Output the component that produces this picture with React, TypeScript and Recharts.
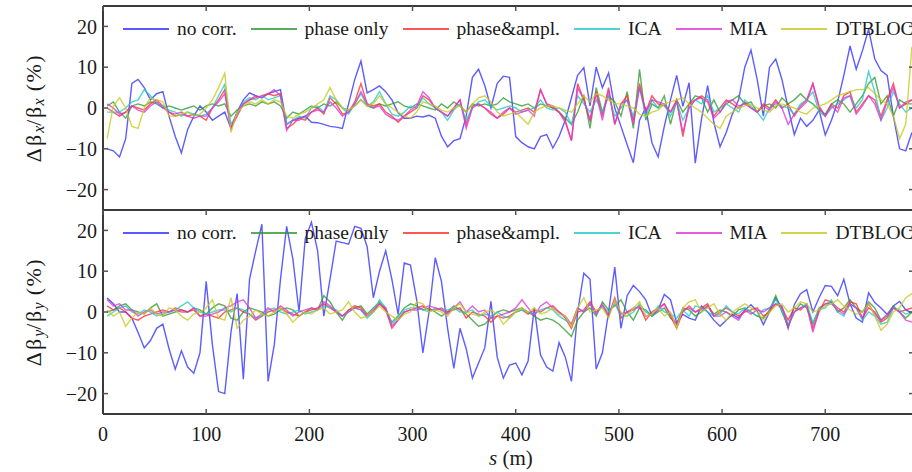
import { LineChart, Line, XAxis, YAxis, Legend } from 'recharts';

// BPM positions along the ring (m)
const sPos = [
  4, 10, 16, 22, 28, 34, 40, 46, 52, 58,
  64, 70, 76, 82, 88, 94, 100, 106, 112, 118,
  124, 130, 136, 142, 148, 154, 160, 166, 172, 178,
  184, 190, 196, 202, 208, 214, 220, 226, 232, 238,
  244, 250, 256, 262, 268, 274, 280, 286, 292, 298,
  304, 310, 316, 322, 328, 334, 340, 346, 352, 358,
  364, 370, 376, 382, 388, 394, 400, 406, 412, 418,
  424, 430, 436, 442, 448, 454, 460, 466, 472, 478,
  484, 490, 496, 502, 508, 514, 520, 526, 532, 538,
  544, 550, 556, 562, 568, 574, 580, 586, 592, 598,
  604, 610, 616, 622, 628, 634, 640, 646, 652, 658,
  664, 670, 676, 682, 688, 694, 700, 706, 712, 718,
  724, 730, 736, 742, 748, 754, 760, 766, 772, 778,
  784,
];

// horizontal beta beating (%)
const noCorrX = [
  -10, -10.5, -12, -7.5, 6, 7, 5, 2, 3.5, 4,
  -2, -7, -11, -5.3, -2, 0.5, -1, -3, -2, -1,
  -5, -1, 2, 3.7, 3, 2.5, 3.5, 4, 4.5, -4,
  -3, -2.5, -2, -3.5, -3.6, -4, -4.5, -4.7, -5, 1,
  7, 11.5, 3.7, 4.5, 5.4, 4, 2, -1.2, -2.5, -2.5,
  -2, -2.2, -1.8, -2.5, -6.9, -9.5, -8, -7.5, -2, 7.5,
  9.5, 5.5, 0, 6, 7.8, 7.5, -7, -8.5, -9.5, -10,
  -7, -6.5, -9.8, -7, -3, 2.5, 8, 9.9, 0.5, 10,
  5, 8.6, 0, -4.5, -9, -13.4, -3, 0, -8.5, -12,
  -4.5, 2, 8, 0.4, 6.2, -13.5, -2.8, 5.5, -3.5, -9.5,
  -6, -1.5, 2, 10, 14.2, 7, -2, 10, 12, 7,
  0, -6.5, -2.5, -4.5, -3, -0.5, -6.6, -3, 1.5, 8,
  15.2, 9.5, 14, 19.3, 12, 9.2, 8, -2, -10, -10.5,
  -6,
];
const phaseOnlyX = [
  0.5, 1.5, -1, -2.5, 0.5, 1, 0.5, 1.5, 1, 0,
  0.5, 0, -0.5, 0, 0.5, -0.5, 0.5, 1, 0.5, 1,
  -2, -0.5, 0.5, 1, 0.5, 1.5, 1, 1.5, 0.5, -2.5,
  -1, -1.5, -0.5, 0.5, 0, 1, 0.5, 1.5, 0, -0.5,
  0.5, 2, 0.5, 0, 1, 0.5, 1, 1.5, 0.5, 0,
  1, 0.5, 0, -0.5, 1, 0, 1.5, 0.5, -1, 1,
  0.5, 1, 0.5, 1, 2.5, 1.5, 1, 0.5, 1, 0,
  1, 0.5, 0, -1, -2.5, -4, -1, 3, -5, 5,
  -1, 3, 1.5, -2, 4, -5, 9.5, -3, 1, 0,
  3, -4, 2, -1, 1, 3, 2.5, -1, 2, -1,
  1, 2, 3, 1, 1.5, -1, 0.5, 1, 0, 2.5,
  1, 2, 3.5, 2, 1, -0.5, -1.5, 1, 2, 1,
  -1, 1, 3, 6, 7.5, 1, 3, -2, 2, 1,
  1,
];
const phaseAmplX = [
  0, -1, -2, -1, 0.5, 0, -0.5, 1, 2, 0.5,
  -1, -2, -1.5, -2, -1.5, -2, -3, 0, 2, 4.5,
  -5, -2, 1, 2, 2.5, 3, 3.5, 3, 3.5, -5,
  -4, -2.5, -3, -1, 0, -1.5, 2.5, 1, -1.5, -1,
  1.5, 6, 1, 0.5, 1, -1, -2, -3.5, -2, -1,
  0, 3, 2, 0, -1, -2, 0, 2, -4, 0.5,
  1, 0, -1.5, -2.5, -1.5, 0, -1, -0.5, 0, -1,
  4.5, 1, 0, -1, -3, -8, 6, 2, -3, 4,
  -2, 5, -4, 1, 3, -3, 6, -1, 3, 1,
  0.5, -1, 2, -7, 1, 2, 3, 2, -2, 0,
  2, 1, 0, 1.5, 0, -1, 1, 0, 2, 0,
  1, -2, 0.5, 2, 6, 0, -2, 1, 0, 3,
  4, -1, 1, 3, 2, -2, 2, 6, 0, 1,
  2,
];
const icaX = [
  -1, -1, -1, 0, 1.5, 2, 4.5, 3, 1, 0.5,
  -0.5, -1, -2, -1, -1.5, -2, -1.5, 0, 3, 5.8,
  -4, -1.5, 1.5, 2.5, 2, 3, 2, 2.5, 3, -4,
  -3, -2, -2.5, 0, 0.5, -1, 3, 2, 0, -1.5,
  1, 3.5, 0.5, 1.5, 4, 1, -1.5, -2, -1, 0.5,
  0, 2.5, 1, 0, -1, -3, -0.5, 1, -3, 0,
  1.5, 2, 0.5, -0.5, 0, 0.5, 0, -1, -0.5, 0,
  2, 0, -0.5, 0, -1, -4, 3, 1, -1, 2,
  -1, 3, -2, 0, 2, -2, 5, -2, 2, 0,
  1, -2, 1.5, -3, 0, 2, 1, 3, -1, 0,
  1, 0, -1, 2, 0.5, -1, -3, 0, 1, 0.5,
  0, -1.5, 1, 2, 4, -1, -2, 0, 1, 2,
  3, 0, 2, 9, 4, -3, 0, 4, 1, -1,
  0,
];
const miaX = [
  1, 0, -1.5, -1, 0.5, -0.5, -1, 0.5, 1.5, 0,
  -1, -1.5, -1, -2, -2.5, -2, -2, 0, 1.5, 3.5,
  -5, -1, 1, 2, 3, 2.5, 3.5, 4.5, 3, -5.5,
  -3, -3, -2, -1, -0.5, -1, 1.5, 0, -2, -1,
  1, 4, 1, 0, 0.5, -1.5, -2.5, -3, -2, -0.5,
  0.5, 4, 2.5, 0, -1, -2, 0, 2, -5, 0,
  1, 0, -1, -2.5, -1, 0, -1.5, -1, -0.5, -2,
  4.5, 1, 0.5, -1, -3.5, -8, 5, 2, -3, 3.5,
  -3, 4.5, -4, 1, 2, -4, 5, -1, 2, 1.5,
  1, -1, 1.5, -6, 0, 2, 2.5, 1.5, -2.5, -1,
  1.5, 2, 0.5, 1, 0, -1, 0.5, -0.5, 1.5, 0,
  -4, -1.5, 0, 1.5, 6, 0.5, -2, 0.5, -1, 2.5,
  3, -1.5, 0.5, 3, 1, -3, 1.5, 5, 0, 1.5,
  2,
];
const dtblocoX = [
  -7.5, 0.5, 2.5, 0, -4.5, -5, 0, 2.5, 2, 1.5,
  -2, -2, -1.5, -1, -2, -1.5, 0, 2, 5, 8.5,
  -6, -1, 0.5, 1.5, 1, 2, 1, 2, 1.5, -2,
  -2.5, -1.5, -1, 0, 1, 2, 5, 2, 0, -0.5,
  0.5, 2, 0.5, 1, 3, 1, 0, -1, -2, -2.5,
  -1, 1.5, 1, 0.5, -0.5, -1, 0, 0.5, -1, 1,
  2.5, 3, 1.5, -1, -2, -1.5, -1, -2.5, -4, -1,
  0, 0.5, 0.5, 0, -0.5, -1, 1, 3, 1.5, 3.5,
  3, 2, 1, 1, 0.5, 0, -1.5, -2, -1, -0.5,
  1, 1.5, 2, 2.5, 1, 0, -1, -2.5, -4, -5,
  -2, -1, 0, 0.5, 1, 0, -0.5, -1, 0.5, 1,
  0.5, 0, -1, -1.5, 0, 0.5, 1, 2, 3, 3.5,
  4, 4.5, 4.5, 5, 3.5, 2, 1, -2, -7.5, -4,
  15,
];

// vertical beta beating (%)
const noCorrY = [
  3.4, 2, 0, 0, -1.5, -5, -8.8, -7, -4, -3,
  -9, -14, -9.5, -13.5, -15, -10, 7.5, -8, -19.5, -20,
  -5, 4.5, -16.5, 8, 15, 21.5, -17, -8, 8, 21,
  13, 0, 18, 22, 15, -1, 8, 17.4, 17, 16.6,
  21, 20.5, 16, 3.5, 10, 15, 8, -0.6, 12, 11.5,
  3, -10, 0, 13.3, 7.5, -4, -13.8, -4, -9, -16.2,
  -12.5, -8.8, 2.6, -11, -16.2, -13, -12.5, -15.4, -12, 1,
  -10.5, -13.5, -14.5, -7.5, -11, -17, 0, 9.5, 8, -14,
  -10, 0, 11, -4, 4, 6.5, 5, 3, -1, 0.5,
  4.3, 3, -2.7, -0.6, -1.5, -2, 1.5, 0, -2, -3.5,
  -2, -0.6, -1.5, 0.5, 1.8, 0.2, -3.1, 0, 3.5, 1,
  -4, 1.8, 4.5, 5.5, 0, 3.5, 6.5, 6.3, 4, 8,
  2, -1.5, -2.5, 4.7, 2.3, 1, -0.6, 1.5, 2.6, 0.5,
  -0.2,
];
const phaseOnlyY = [
  0, 0.5, 1.5, 2, 0.5, 0, -0.5, 1, 2, -1,
  -0.5, 0, 0.5, 0, 1, 0.5, -0.5, 1, 2, 1.5,
  -1.5, -2, 0, 1, 0.5, 0, -1, -0.5, 0.5, 1,
  0.5, -1, 0, 1, 0.5, 4, 2.5, 0, -2, 0.5,
  1, 1.5, -0.5, 1, 2.5, 0.5, -2.5, -1, 1, 2,
  1.5, 0.5, 1, 0, -1, 0, 1.5, 0.5, -0.5, -2,
  -3.5, -3, -1.5, 0, 0.5, 0, 0.5, 1, 0, -1,
  -2, -1.5, -2, -3, -4.5, -6, -2, 0, 1, -1,
  2.5, 0.5, 1.5, 3, 0, -2, 1, 0.5, -1, 0,
  1, -1.5, -3, 1, 0.5, -1, 0, 1.5, -0.5, 0.5,
  0, -1, 0.5, 1, 0, -1, -1.5, 0.5, 4, 0,
  -3.5, 0, 2, 1, -3, 1, 2, 2.5, 0, 1,
  3, 1, 0, 2.5, 1, -2, -1, 1.5, 0, -1.5,
  0,
];
const phaseAmplY = [
  1.5, 0.5, 1, 0, -1.5, -2, -1, -0.5, 0, 0.5,
  0, 1, 0.5, 0, 0.5, -1, -0.5, -1, -1.5, 0,
  0.5, 1, 0, -0.5, -2, -1, 0, 0.5, 1, 0,
  -0.5, -1, 0, 0.5, 1, 2, 1, 0, -1, 0.5,
  1.5, 1, -1, 0, 2, 0.5, -4, -2, 0, 0.5,
  1, 1.5, 0.5, 0.5, 1, 0, 0.5, 1, -1.5, 0,
  -0.5, -1, -2.5, -1, -1.5, -1, 0, 0.5, -0.5, 0.5,
  0, 1, 1.5, 0, -1.5, -4, 0, 0.5, 2.5, 0,
  1.5, -1, 3.5, -1.5, 0, 0.5, 1.5, -2, 0, 1,
  2, -1, -4, 0, 1.5, 0, 1, 2, -1, 0,
  1, 0, -1, 0, 0.5, 1, -1, 0, 2, 1,
  -2, 1, 0.5, 2, -4, 0, 3, 2.5, 1, 0,
  2.5, 2, -1.5, 1, 0, -2.5, -1.5, 1, 0, 0.5,
  1,
];
const icaY = [
  -1, 0, 1, 1.5, 0, -0.5, 0.5, 0, -1, -0.5,
  0, 0.5, 1.5, 2.5, 1, 0, -0.5, 0, 0.5, 0.5,
  0, 1, 0.5, -0.5, -1.5, -1, 0.5, 1, 0, -0.5,
  0, 0.5, -0.5, 0, 0.5, 1.5, 1, 0.5, -1, 0,
  1, 0.5, -1.5, 0, 3, 1, -3, -1.5, 0.5, 1,
  1, 0.5, 0, 1, 0.5, 0.5, 1, 0, 0, 0.5,
  -1, -0.5, -1, 0, -1, -1.5, 0, 0.5, 0, -0.5,
  0.5, 1, 0.5, -1, -2, -3, 1, 0, 2, -0.5,
  1.5, 0, 2, -1, -1, 0, 2, 0, -1, 1.5,
  0, -0.5, -1.5, 0.5, -1, 1.5, 1, 0, -1, -0.5,
  1.5, 0, -0.5, 1, 0, -1, 0.5, 1, 3, 0.5,
  -3, 0, 1, 2, -2.5, 0.5, 1, 3, 0, -1,
  2, 1, -2, 0, -1, -3, -2.5, 1, 0.5, -0.5,
  0,
];
const miaY = [
  3, 1.5, 2, 0.5, 0.5, -1, 0, 0.5, -0.5, 0,
  0, 0.5, 0, 0, 1, -1, -1, -0.5, 0, 1,
  1.5, 2.5, 3, 1, -1.5, -0.5, 1, 0, 1.5, 0.5,
  -1, 0, 0.5, 1, 0.5, 2.5, 1.5, 0, -1, 0,
  1, 0.5, -1, 0.5, 2, 1, -3.5, -2, 0, 0.5,
  0.5, 1, 1.5, 1, 0.5, -0.5, 1, 2.5, 0, 1.5,
  0, 0.5, -1.5, -1, -0.5, 0, 1, 3, 1, -1,
  1.5, 2.5, 1, 0, -1, -3, 1, 0, 2, -0.5,
  2, -1, 3, -0.5, 0, 1, 1, -1, -0.5, 0.5,
  2, -0.5, -3, 0.5, 1, 0, 0.5, 1.5, -1, -1,
  0, -1, -2, 0.5, -0.5, 0.5, 0, 1, 2, 1.5,
  -3.5, 0, 1, 1.5, -5, 0.5, 2, 2, 0.5, -0.5,
  2, 1, -1.5, 2, -0.5, -2, -0.5, 1, 0, -2,
  -2.5,
];
const dtblocoY = [
  0.5, -1, 0, -3.5, -1.5, 0, -0.5, 1, -0.5, -1,
  1, 0.5, -1, -2, -0.5, 0, 1, 3, -1.5, -2,
  3.5, -4, -2, -1, 0.5, -0.5, -1, 0, 1, -0.5,
  -2.5, -1, 0, -0.5, 0.5, 1, -0.5, 0, 0.5, 2.5,
  0, -1.5, -1, 0, 1.5, 0, -1, -2, -0.5, 0,
  2.5, 2, 0, 0.5, 0, -1, 1, 2, 0, -0.5,
  -1, 0, 0.5, -0.5, -3, -1.5, 0, 1, 0, 1,
  -0.5, 0, 1, -0.5, -1, -3.5, 1, 3.5, 0, 0.5,
  1, -1.5, 3, 0, -1, 1, 2.5, -1, -0.5, 1,
  -1, 0, -4, 1, 2.5, 3, 0, 1, 2, -0.5,
  -2, 0, 1, 2, 1, 0, -2, 0, 1.5, 2,
  0, 1, 2.5, 2, 0, 0.5, 1.5, 2, 3, 1.5,
  0.5, -0.5, 0, 2, -1, -4.5, -3, 0, 1, 3.5,
  4.5,
];

const seriesNames = ['no corr.', 'phase only', 'phase&ampl.', 'ICA', 'MIA', 'DTBLOCO'];
const seriesKeys = ['nc', 'po', 'pa', 'ica', 'mia', 'dtb'];
const seriesColors = ['#2f2fff', '#2e9a2e', '#ff2a2a', '#22c8c8', '#dd33dd', '#c8c81e'];
const xTicks = [0, 100, 200, 300, 400, 500, 600, 700];
const yTicks = [-20, -10, 0, 10, 20];

const X_MAX = 786;
const Y_MAX = 25;

const buildRows = (cols: number[][]) =>
  sPos.map((s, i) => {
    const row: Record<string, number> = { s };
    seriesKeys.forEach((k, j) => (row[k] = cols[j][i]));
    return row;
  });

const rowsX = buildRows([noCorrX, phaseOnlyX, phaseAmplX, icaX, miaX, dtblocoX]);
const rowsY = buildRows([noCorrY, phaseOnlyY, phaseAmplY, icaY, miaY, dtblocoY]);

const FONT = '"Liberation Serif", "Times New Roman", serif';
const FRAME = '#3a3a3a';
const frame = { stroke: FRAME, strokeWidth: 2 };
const tickMark = { stroke: '#555', strokeWidth: 1.5 };
const tickText = { fontSize: 20, fill: '#1a1a1a', fontFamily: FONT };
const fmtY = (v: number) => (v < 0 ? `\u2212${-v}` : `${v}`);

// legend drawn in series order, straight from the series lists
const LegendRow = () => (
  <div style={{ display: 'flex', alignItems: 'center', fontFamily: FONT, fontSize: 19.5, color: '#1a1a1a', whiteSpace: 'nowrap' }}>
    {seriesNames.map((name, j) => (
      <div key={name} style={{ display: 'flex', alignItems: 'center', marginRight: 14 }}>
        <div style={{ width: 46, height: 0, borderTop: `2px solid ${seriesColors[j]}`, opacity: 0.8 }} />
        <span style={{ marginLeft: 8 }}>{name}</span>
      </div>
    ))}
  </div>
);

// y title plus the top / right sides of the box (the axes only draw left and bottom)
const PanelDecor = ({ viewBox, sub }: any) => {
  const left = viewBox?.x + viewBox?.width || 103;
  const top = viewBox?.y ?? 6;
  const h = viewBox?.height ?? 204;
  const right = 914;
  const w = right - left;
  const cy = top + h / 2;
  return (
    <g>
      <line x1={left} y1={top} x2={right} y2={top} stroke={FRAME} strokeWidth={2} />
      <line x1={right} y1={top} x2={right} y2={top + h} stroke={FRAME} strokeWidth={2} />
      {xTicks.map((t) => {
        const x = left + (t / X_MAX) * w;
        return <line key={`t${t}`} x1={x} y1={top} x2={x} y2={top + 5} stroke="#555" strokeWidth={1.5} />;
      })}
      {yTicks.map((t) => {
        const y = top + ((Y_MAX - t) / (2 * Y_MAX)) * h;
        return <line key={`r${t}`} x1={right} y1={y} x2={right - 5} y2={y} stroke="#555" strokeWidth={1.5} />;
      })}
      <text
        x={33}
        y={cy}
        transform={`rotate(-90, 33, ${cy})`}
        textAnchor="middle"
        dominantBaseline="central"
        fontSize={22}
        fill="#1a1a1a"
        fontFamily={FONT}
      >
        <tspan letterSpacing={2}>Δβ</tspan>
        <tspan fontStyle="italic" fontSize={16} dy={5}>{sub}</tspan>
        <tspan dy={-5} letterSpacing={1.5}>/β</tspan>
        <tspan fontStyle="italic" fontSize={16} dy={5}>{sub}</tspan>
        <tspan dy={-5} letterSpacing={1.5}> (%)</tspan>
      </text>
    </g>
  );
};

const XTitle = () => (
  <text x={511} y={261} textAnchor="middle" fontSize={21} fill="#1a1a1a" fontFamily={FONT}>
    <tspan fontStyle="italic">s</tspan> (m)
  </text>
);

const Panel = ({ data, sub, bottom }: { data: any[]; sub: string; bottom: boolean }) => (
  <LineChart
    width={920}
    height={bottom ? 268 : 216}
    data={data}
    margin={{ top: 6, right: 6, left: 0, bottom: bottom ? 0 : 5 }}
  >
    <XAxis
      dataKey="s"
      type="number"
      domain={[0, X_MAX]}
      allowDataOverflow
      ticks={xTicks}
      height={bottom ? 58 : 1}
      axisLine={frame}
      tickLine={tickMark}
      tickSize={-5}
      tickMargin={18}
      tick={bottom ? tickText : false}
      label={bottom ? <XTitle /> : undefined}
    />
    <YAxis
      type="number"
      domain={[-Y_MAX, Y_MAX]}
      allowDataOverflow
      ticks={yTicks}
      width={103}
      axisLine={frame}
      tickLine={tickMark}
      tickSize={-5}
      tickMargin={11}
      tick={tickText}
      tickFormatter={fmtY}
      label={<PanelDecor sub={sub} />}
    />
    <Legend
      verticalAlign="middle"
      align="center"
      wrapperStyle={{ top: 18, left: 123, width: 'auto' }}
      content={() => <LegendRow />}
    />
    {seriesKeys.map((k, j) => (
      <Line
        key={k}
        dataKey={k}
        name={seriesNames[j]}
        stroke={seriesColors[j]}
        strokeOpacity={0.78}
        strokeWidth={1.4}
        dot={false}
        activeDot={false}
        isAnimationActive={false}
      />
    ))}
  </LineChart>
);

export default function App() {
  return (
    <div style={{ position: 'absolute', left: 0, top: 0, width: 912, height: 472, overflow: 'hidden', background: '#fff' }}>
      <div style={{ position: 'absolute', left: 0, top: 0 }}>
        <Panel data={rowsX} sub="x" bottom={false} />
      </div>
      <div style={{ position: 'absolute', left: 0, top: 204 }}>
        <Panel data={rowsY} sub="y" bottom={true} />
      </div>
    </div>
  );
}
